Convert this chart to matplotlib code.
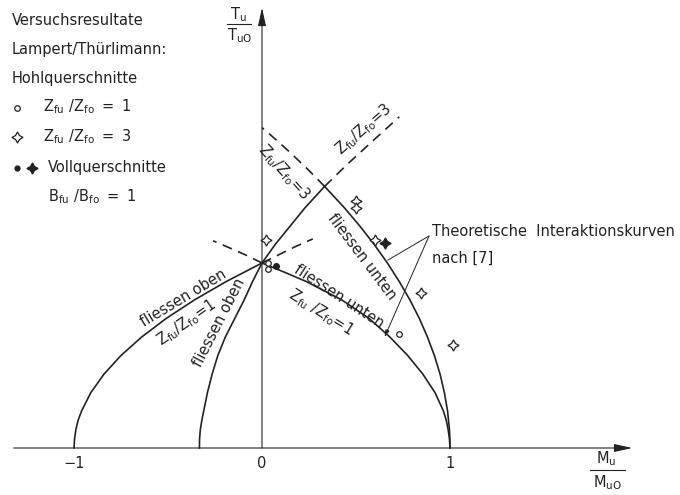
# Interaktion Biegung / Torsion - Versuchsresultate Lampert/Thürlimann

import matplotlib.pyplot as plt

plt.rcParams['font.family'] = ['DejaVu Sans']
plt.rcParams['mathtext.default'] = 'regular'

# Theoretische Interaktionskurven (M/Mu0, T/Tu0)
# Zfu/Zfo = 1, fliessen oben
r1_oben_t = [0.0, 0.05, 0.1, 0.15, 0.2, 0.3, 0.4, 0.5, 0.6, 0.7, 0.8, 0.9, 1.0]
r1_oben_m = [-1.0, -0.997, -0.99, -0.978, -0.96, -0.91, -0.84, -0.75, -0.64, -0.51,
             -0.36, -0.19, 0.0]
r1_oben_ext_m = [0.0, 0.09, 0.18, 0.27]
r1_oben_ext_t = [1.0, 1.045, 1.09, 1.13]

# Zfu/Zfo = 1, fliessen unten
r1_unten_t = [1.0, 0.95, 0.9, 0.8, 0.7, 0.6, 0.5, 0.4, 0.3, 0.2, 0.15, 0.1, 0.05, 0.0]
r1_unten_m = [0.0, 0.12, 0.235, 0.425, 0.57, 0.68, 0.775, 0.855, 0.92, 0.965, 0.98,
              0.99, 0.997, 1.0]
r1_unten_ext_m = [0.0, -0.09, -0.18, -0.26]
r1_unten_ext_t = [1.0, 1.045, 1.085, 1.12]

# Zfu/Zfo = 3, fliessen oben
r3_oben_t = [0.0, 0.05, 0.1, 0.15, 0.2, 0.3, 0.4, 0.5, 0.6, 0.7, 0.8, 0.9, 1.0, 1.1,
             1.2, 1.3, 1.414]
r3_oben_m = [-0.333, -0.332, -0.328, -0.32, -0.31, -0.29, -0.265, -0.235, -0.195,
             -0.145, -0.095, -0.05, 0.0, 0.07, 0.15, 0.23, 0.333]
r3_oben_ext_m = [0.333, 0.45, 0.6, 0.73]
r3_oben_ext_t = [1.414, 1.53, 1.67, 1.79]

# Zfu/Zfo = 3, fliessen unten
r3_unten_t = [1.414, 1.3, 1.2, 1.1, 1.0, 0.9, 0.8, 0.7, 0.6, 0.5, 0.4, 0.3, 0.2, 0.15,
              0.1, 0.05, 0.0]
r3_unten_m = [0.333, 0.437, 0.52, 0.597, 0.667, 0.73, 0.787, 0.837, 0.88, 0.917, 0.947,
              0.97, 0.987, 0.992, 0.997, 0.999, 1.0]
r3_unten_ext_m = [0.333, 0.25, 0.147, 0.037, 0.0]
r3_unten_ext_t = [1.414, 1.5, 1.6, 1.7, 1.732]

# Versuchsresultate
hohl1_m = [0.032, 0.032, 0.73]
hohl1_t = [1.0, 0.968, 0.615]
hohl3_m = [0.023, 0.50, 0.50, 0.603, 0.844, 1.016]
hohl3_t = [1.124, 1.335, 1.297, 1.124, 0.836, 0.557]
voll_dot_m = [0.077]
voll_dot_t = [0.986]
voll_star_m = [0.653]
voll_star_t = [1.106]

ink = '#222222'
fs = 10.5


def P(x, y):
    # Pixelposition der Vorlage -> Datenkoordinaten
    return (x - 262) / 188, (448 - y) / 185


fig = plt.figure(figsize=(6.8, 4.95), dpi=100)
ax = fig.add_axes([0, 0, 1, 1])
ax.set_xlim(-262 / 188, 418 / 188)
ax.set_ylim(-47 / 185, 448 / 185)
ax.axis('off')

# Achsen mit Pfeil
arrow = dict(arrowstyle='-|>,head_length=1.0,head_width=0.22', lw=0.8, color=ink,
             mutation_scale=11, shrinkA=0, shrinkB=0)
ax.annotate('', xy=(1.97, 0), xytext=(-1.32, 0), arrowprops=arrow)
ax.annotate('', xy=(0, 2.38), xytext=(0, 0), arrowprops=arrow)

# Kurven
lw = 1.2
ax.plot(r1_oben_m, r1_oben_t, color=ink, lw=lw)
ax.plot(r1_unten_m, r1_unten_t, color=ink, lw=lw)
ax.plot(r3_oben_m, r3_oben_t, color=ink, lw=lw)
ax.plot(r3_unten_m, r3_unten_t, color=ink, lw=lw)
dash = dict(color=ink, lw=1.2, dashes=(6, 4))
ax.plot(r1_oben_ext_m, r1_oben_ext_t, **dash)
ax.plot(r1_unten_ext_m, r1_unten_ext_t, **dash)
ax.plot(r3_oben_ext_m, r3_oben_ext_t, **dash)
ax.plot(r3_unten_ext_m, r3_unten_ext_t, **dash)

# Messpunkte
ax.plot(hohl1_m, hohl1_t, ls='none', marker='o', ms=4, mfc='white', mec=ink, mew=0.9)
ax.plot(hohl3_m, hohl3_t, ls='none', marker=(4, 1, 0), ms=8, mfc='white', mec=ink, mew=0.9)
ax.plot(voll_dot_m, voll_dot_t, ls='none', marker='o', ms=4, mfc=ink, mec=ink)
ax.plot(voll_star_m, voll_star_t, ls='none', marker=(4, 1, 0), ms=8, mfc=ink, mec=ink)

# Beschriftungen an den Kurven
curve_labels = [
    ('fliessen oben', (183, 298), 31),
    (r'$Z_{fu}/Z_{fo}$=1', (187, 323), 35),
    ('fliessen oben', (219, 323), 63),
    (r'$Z_{fu}/Z_{fo}$=3', (284, 172), -48),
    (r'$Z_{fu}/Z_{fo}$=3', (364, 130), 41),
    ('fliessen unten', (362, 257), -53),
    ('fliessen unten', (339, 296), -33),
    (r'$Z_{fu}\ /Z_{fo}$=1', (321, 312), -32),
]
for txt, pos, rot in curve_labels:
    ax.text(*P(*pos), txt, rotation=rot, rotation_mode='anchor', ha='center',
            va='center', fontsize=fs, color=ink)

# Hinweis theoretische Kurven
ax.text(*P(432, 232), 'Theoretische  Interaktionskurven', ha='left', va='center',
        fontsize=fs, color=ink)
ax.text(*P(432, 258), 'nach [7]', ha='left', va='center', fontsize=fs, color=ink)
ax.plot([P(429, 236)[0], 0.67], [P(429, 236)[1], 1.016], color=ink, lw=0.7)
ax.annotate('', xy=(0.652, 0.60), xytext=P(429, 236),
            arrowprops=dict(arrowstyle='-|>,head_length=0.5,head_width=0.15', lw=0.7,
                            color=ink, mutation_scale=8, shrinkA=0, shrinkB=0))

# Achsenbeschriftungen
ax.text(*P(238, 15), '$T_u$', ha='center', va='center', fontsize=fs, color=ink)
ax.plot([P(227, 24)[0], P(251, 24)[0]], [P(0, 24)[1]] * 2, color=ink, lw=0.8)
ax.text(*P(240, 36), '$T_{uO}$', ha='center', va='center', fontsize=fs, color=ink)
ax.text(*P(606, 459), '$M_u$', ha='center', va='center', fontsize=fs, color=ink)
ax.plot([P(590, 470)[0], P(625, 470)[0]], [P(0, 470)[1]] * 2, color=ink, lw=0.8)
ax.text(*P(607, 483), '$M_{uO}$', ha='center', va='center', fontsize=fs, color=ink)

for lab, val in [('\u22121', -1), ('0', 0), ('1', 1)]:
    ax.text(val, P(0, 464)[1], lab, ha='center', va='center', fontsize=fs, color=ink)

# Legende oben links
legend_rows = [
    ('Versuchsresultate', 12, 20),
    ('Lampert/Thürlimann:', 12, 49),
    ('Hohlquerschnitte', 12, 78),
    (r'$Z_{fu}\ /Z_{fo}\ =\ 1$', 43, 107),
    (r'$Z_{fu}\ /Z_{fo}\ =\ 3$', 43, 137),
    ('Vollquerschnitte', 48, 167),
    (r'$B_{fu}\ /B_{fo}\ =\ 1$', 48, 197),
]
for txt, x, y in legend_rows:
    ax.text(*P(x, y), txt, ha='left', va='center', fontsize=fs, color=ink)
ax.plot(*P(17, 108), ls='none', marker='o', ms=4, mfc='white', mec=ink, mew=0.9)
ax.plot(*P(17, 137), ls='none', marker=(4, 1, 0), ms=8, mfc='white', mec=ink, mew=0.9)
ax.plot(*P(17, 168), ls='none', marker='o', ms=3.5, mfc=ink, mec=ink)
ax.plot(*P(32, 168), ls='none', marker=(4, 1, 0), ms=8, mfc=ink, mec=ink)

fig.savefig('out.png', dpi=100, facecolor='white')
